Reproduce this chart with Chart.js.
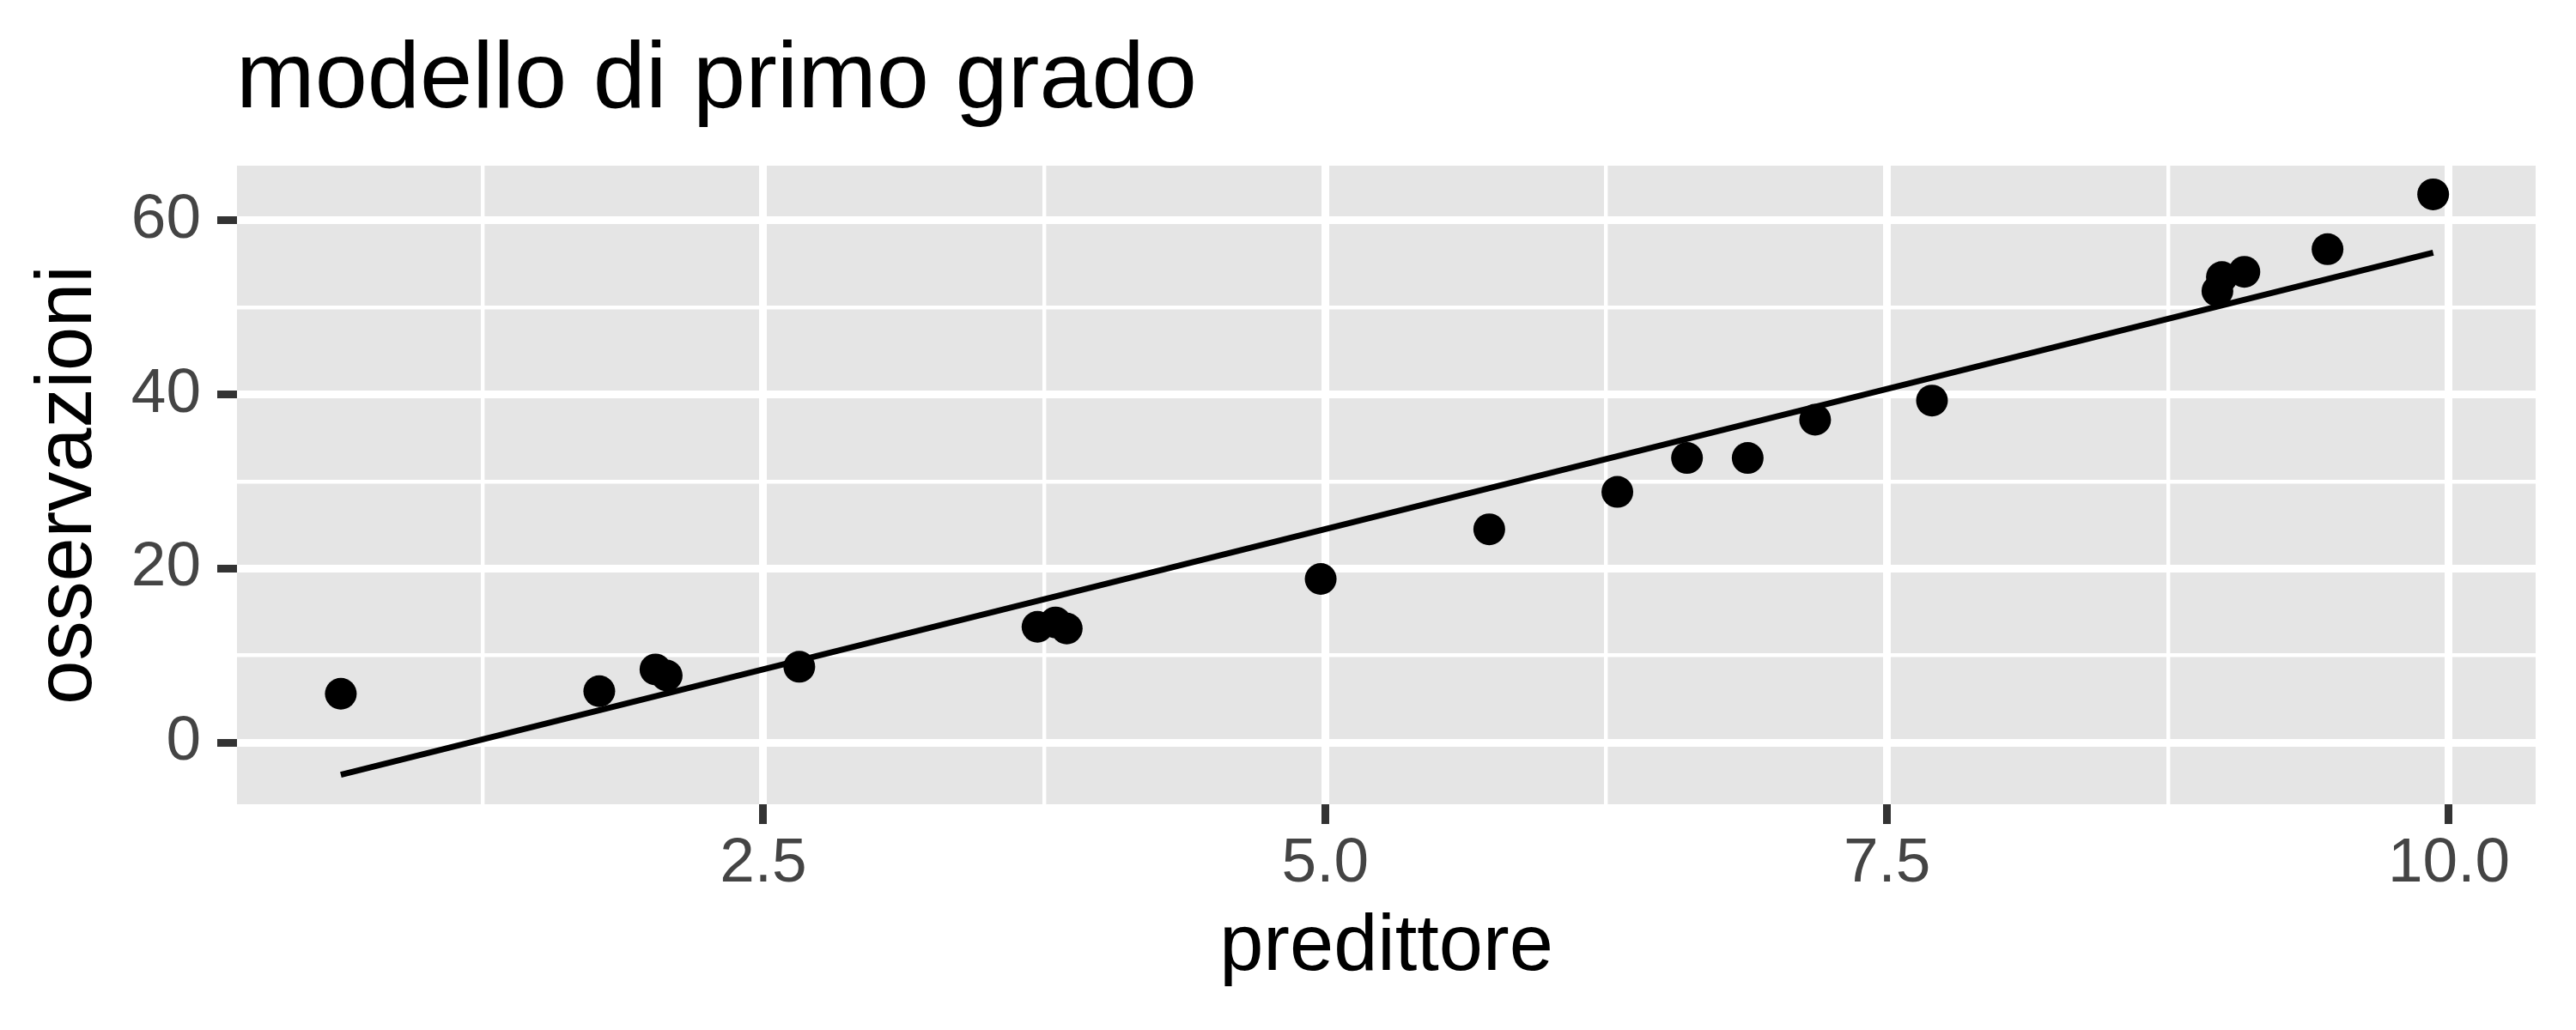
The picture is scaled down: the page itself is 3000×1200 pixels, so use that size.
<!DOCTYPE html>
<html>
<head>
<meta charset="utf-8">
<title>modello di primo grado</title>
<script src="https://cdn.jsdelivr.net/npm/chart.js@4.4.1/dist/chart.umd.min.js"></script>
<style>
    html, body { margin: 0; padding: 0; background: #ffffff; }
    #chart { display: block; }
</style>
</head>
<body>
<canvas id="chart" width="3000" height="1200"></canvas>
<script>
// punti osservati
const predittore = [0.62, 1.77, 2.02, 2.07, 2.66, 3.72, 3.80, 3.85, 4.98, 5.73,
    6.30, 6.61, 6.88, 7.18, 7.70, 8.97, 8.99, 9.09, 9.46, 9.93];
const osservazioni = [5.6, 5.9, 8.4, 7.7, 8.7, 13.3, 13.8, 13.1, 18.8, 24.5,
    28.8, 32.7, 32.7, 37.1, 39.3, 51.9, 53.5, 54.1, 56.7, 63.0];

// retta del modello (estremi)
const fitX = [0.62, 9.93];
const fitY = [-3.7, 56.3];

const xTickValues = [2.5, 5, 7.5, 10];
const xTickLabels = ['2.5', '5.0', '7.5', '10.0'];
const xMinorValues = [1.25, 3.75, 6.25, 8.75];
const yTickValues = [0, 20, 40, 60];
const yTickLabels = ['0', '20', '40', '60'];
const yMinorValues = [10, 30, 50];

const xRange = [0.158, 10.386];
const yRange = [-7.1, 66.3];

const FONT = "'Liberation Sans', Arial, Helvetica, sans-serif";
Chart.defaults.font.family = FONT;

const isMajor = (list, v) => list.some(t => Math.abs(t - v) < 1e-9);

const panelBackground = {
    id: 'panelBackground',
    beforeDraw(chart) {
        const { ctx, chartArea: a } = chart;
        ctx.save();
        ctx.fillStyle = '#E5E5E5';
        ctx.fillRect(a.left, a.top, a.right - a.left, a.bottom - a.top);
        ctx.restore();
    }
};

const plotTitle = {
    id: 'plotTitle',
    afterDraw(chart) {
        const { ctx, chartArea: a } = chart;
        ctx.save();
        ctx.font = '110px ' + FONT;
        ctx.fillStyle = '#000000';
        ctx.textAlign = 'left';
        ctx.textBaseline = 'alphabetic';
        ctx.fillText('modello di primo grado', a.left - 1, 125);
        ctx.restore();
    }
};

function gridOptions(major) {
    return {
        color: '#FFFFFF',
        lineWidth: c => (c.tick && isMajor(major, c.tick.value) ? 9 : 4.4),
        drawTicks: true,
        tickLength: 23,
        tickWidth: 9,
        tickColor: c => (c.tick && isMajor(major, c.tick.value) ? '#333333' : 'rgba(0,0,0,0)')
    };
}

const points = predittore.map((x, i) => ({ x: x, y: osservazioni[i] }));
const fitLine = fitX.map((x, i) => ({ x: x, y: fitY[i] }));

new Chart(document.getElementById('chart'), {
    type: 'scatter',
    data: {
        datasets: [
            {
                type: 'line',
                data: fitLine,
                borderColor: '#000000',
                borderWidth: 7,
                pointRadius: 0,
                fill: false,
                tension: 0
            },
            {
                data: points,
                backgroundColor: '#000000',
                borderWidth: 0,
                pointRadius: 18.5,
                pointHoverRadius: 18.5
            }
        ]
    },
    options: {
        responsive: false,
        devicePixelRatio: 1,
        animation: false,
        layout: { padding: { top: 193, right: 47, bottom: 0, left: 0 } },
        plugins: {
            legend: { display: false },
            tooltip: { enabled: false },
            title: { display: false }
        },
        scales: {
            x: {
                type: 'linear',
                min: xRange[0],
                max: xRange[1],
                afterBuildTicks: s => {
                    s.ticks = xMinorValues.concat(xTickValues).sort((a, b) => a - b).map(v => ({ value: v }));
                },
                afterFit: s => { s.height = 263; },
                grid: gridOptions(xTickValues),
                border: { display: false },
                ticks: {
                    autoSkip: false,
                    maxRotation: 0,
                    padding: 3,
                    color: '#444444',
                    font: { size: 73 },
                    callback: v => {
                        const i = xTickValues.findIndex(t => Math.abs(t - v) < 1e-9);
                        return i >= 0 ? xTickLabels[i] : '';
                    }
                },
                title: {
                    display: true,
                    text: 'predittore',
                    color: '#000000',
                    font: { size: 92 },
                    padding: { top: 0, bottom: 40 }
                }
            },
            y: {
                type: 'linear',
                min: yRange[0],
                max: yRange[1],
                afterBuildTicks: s => {
                    s.ticks = yMinorValues.concat(yTickValues).sort((a, b) => a - b).map(v => ({ value: v }));
                },
                afterFit: s => { s.width = 276; },
                grid: gridOptions(yTickValues),
                border: { display: false },
                ticks: {
                    autoSkip: false,
                    padding: 19,
                    color: '#444444',
                    font: { size: 73 },
                    callback: v => {
                        const i = yTickValues.findIndex(t => Math.abs(t - v) < 1e-9);
                        return i >= 0 ? yTickLabels[i] : '';
                    }
                },
                title: {
                    display: true,
                    text: 'osservazioni',
                    color: '#000000',
                    font: { size: 92 },
                    padding: { top: 25, bottom: 0 }
                }
            }
        }
    },
    plugins: [panelBackground, plotTitle]
});
</script>
</body>
</html>
